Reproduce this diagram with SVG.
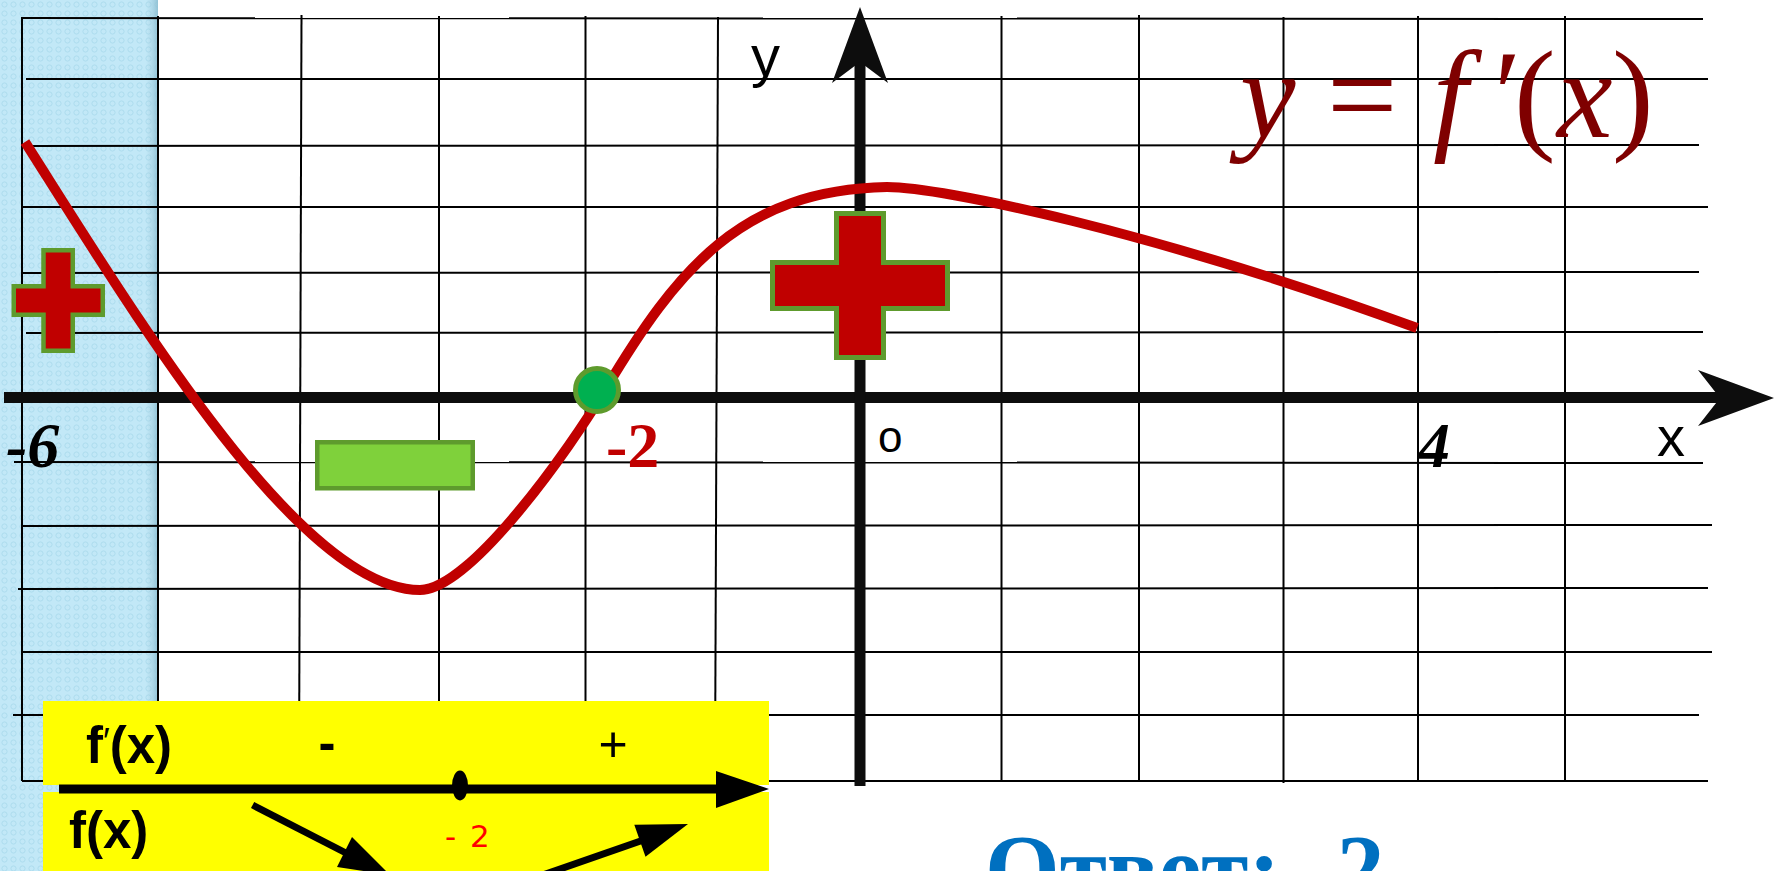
<svg xmlns="http://www.w3.org/2000/svg" width="1782" height="871" viewBox="0 0 1782 871">
<defs>
  <pattern id="dots" width="9" height="9" patternUnits="userSpaceOnUse">
    <rect width="9" height="9" fill="#C2E8F7"/>
    <circle cx="4.5" cy="4.5" r="2.6" fill="none" stroke="#ADDCEE" stroke-width="1"/>
  </pattern>
  <linearGradient id="edge" x1="0" y1="0" x2="1" y2="0">
    <stop offset="0" stop-color="#9DCBDD" stop-opacity="0"/>
    <stop offset="1" stop-color="#8FBFD2" stop-opacity="0.9"/>
  </linearGradient>
  <style>
    .grid { stroke: #000; stroke-width: 2; fill: none; }
    .axis { stroke: #0D0D0D; stroke-width: 11; fill: none; }
    .mark { fill: #C00000; stroke: #5E9B2D; }
    .num { font-family: "Liberation Serif", serif; font-weight: bold; font-size: 64px; }
    .lbl { font-family: "Liberation Sans", sans-serif; fill: #000; }
    .tb { font-family: "Liberation Sans", sans-serif; font-weight: bold; font-size: 51px; fill: #000; }
    .formula { font-family: "Liberation Serif", "DejaVu Serif", serif; font-size: 125px; fill: #7F0000; }
  </style>
</defs>
<rect width="1782" height="871" fill="#FFFFFF"/>
<g id="side-strip">
  <rect x="0" y="0" width="158" height="871" fill="url(#dots)"/>
  <rect x="146" y="0" width="12" height="871" fill="url(#edge)"/>
</g>
<g id="grid" class="grid">
  <line x1="22" y1="17" x2="22" y2="781"/>
  <line x1="158" y1="16" x2="158" y2="782"/>
  <line x1="301.5" y1="15" x2="299" y2="782"/>
  <line x1="439" y1="16" x2="439" y2="782"/>
  <line x1="585.5" y1="16" x2="585.5" y2="782"/>
  <line x1="718" y1="17" x2="715" y2="782"/>
  <line x1="1001.5" y1="16" x2="1001.5" y2="782"/>
  <line x1="1139" y1="15" x2="1139" y2="782"/>
  <line x1="1283.5" y1="17" x2="1283.5" y2="783"/>
  <line x1="1418" y1="16" x2="1418" y2="781"/>
  <line x1="1565" y1="16" x2="1565" y2="781"/>
  <line x1="22" y1="18" x2="1703" y2="19"/>
  <line x1="26" y1="79" x2="1708" y2="79"/>
  <line x1="22" y1="146" x2="1699" y2="145"/>
  <line x1="22" y1="207" x2="1708" y2="207"/>
  <line x1="22" y1="273" x2="1699" y2="272"/>
  <line x1="26" y1="333" x2="1703" y2="332"/>
  <line x1="14" y1="462" x2="1703" y2="463"/>
  <line x1="22" y1="526" x2="1712" y2="525"/>
  <line x1="18" y1="589" x2="1708" y2="588"/>
  <line x1="22" y1="652" x2="1712" y2="652"/>
  <line x1="13" y1="715" x2="1699" y2="715"/>
  <line x1="22" y1="781" x2="1708" y2="781"/>
</g>
<g id="axes">
  <line class="axis" x1="4" y1="397.5" x2="1722" y2="397.5"/>
  <polygon points="1774,398 1698,370 1720,398 1698,426" fill="#0D0D0D"/>
  <line class="axis" x1="860" y1="60" x2="860" y2="786"/>
  <polygon points="860,7 888,83 860,62 832,83" fill="#0D0D0D"/>
</g>
<g id="curve">
  <path d="M25,142 C135,315 300,590 420,590 C470,590 569,450 605,390 C677,270 740,190 887,187 C940,187 1150,230 1417,328" fill="none" stroke="#C00000" stroke-width="10"/>
</g>
<g id="sign-plus-left">
  <path class="mark" stroke-width="4.5" d="M43.5,250.25 H72.75 V286.25 H102.75 V314.75 H72.75 V350.75 H43.5 V314.75 H13.75 V286.25 H43.5 Z"/>
</g>
<g id="sign-minus">
  <rect x="317.25" y="442.25" width="155.5" height="46" fill="#7FD13B" stroke="#5E9B2D" stroke-width="4.5"/>
</g>
<g id="sign-plus-right">
  <path class="mark" stroke-width="5" d="M836.5,213.5 H883.5 V262.5 H947.5 V308.5 H883.5 V357.5 H836.5 V308.5 H772.5 V262.5 H836.5 Z"/>
</g>
<g id="zero-point">
  <circle cx="597" cy="390" r="21.5" fill="#00B050" stroke="#5E9B2D" stroke-width="5"/>
</g>
<g id="labels">
  <text class="num" x="6" y="467" font-style="italic" fill="#000">-6</text>
  <text class="num" x="606" y="467" fill="#C00000">-2</text>
  <text class="num" x="1418" y="467" font-style="italic" fill="#000">4</text>
  <text class="lbl" x="1657" y="456" font-size="56">x</text>
  <text class="lbl" x="751" y="76" font-size="58">y</text>
  <text class="lbl" x="878" y="452" font-size="44">o</text>
</g>
<g id="formula">
  <text class="formula" y="137"><tspan x="1240" font-style="italic">y</tspan><tspan x="1327">=</tspan><tspan x="1433" font-style="italic">f</tspan><tspan x="1494">′</tspan><tspan x="1514">(</tspan><tspan x="1557" font-style="italic">x</tspan><tspan x="1612">)</tspan></text>
</g>
<g id="sign-table">
  <rect x="43" y="701" width="726" height="84" fill="#FFFF00"/>
  <rect x="43" y="792" width="726" height="79" fill="#FFFF00"/>
  <line x1="59" y1="789" x2="720" y2="789" stroke="#000" stroke-width="9"/>
  <polygon points="769,789 716,771 716,808" fill="#000"/>
  <ellipse cx="460" cy="785.5" rx="8" ry="15" fill="#000"/>
  <text class="tb" x="86" y="763">f<tspan font-weight="normal" font-size="36" dy="-9">′</tspan><tspan dy="9">(x)</tspan></text>
  <text class="tb" x="327" y="760" text-anchor="middle">-</text>
  <text class="lbl" x="613" y="761" font-size="50" text-anchor="middle">+</text>
  <text class="tb" x="69" y="848">f(x)</text>
  <text x="445" y="847" font-family="DejaVu Sans, sans-serif" font-size="31" fill="#FF0000" letter-spacing="2">- 2</text>
  <line x1="252.6" y1="805" x2="346" y2="853" stroke="#000" stroke-width="7"/>
  <polygon points="352,837 337,867 390,875" fill="#000"/>
  <line x1="517" y1="884" x2="642" y2="840.5" stroke="#000" stroke-width="7"/>
  <polygon points="688,824 634.3,824.8 645.5,856.8" fill="#000"/>
</g>
<g id="answer">
  <text x="985" y="901" font-family="Liberation Serif, serif" font-weight="bold" font-size="96" fill="#0070C0">Ответ: -2</text>
</g>
</svg>
